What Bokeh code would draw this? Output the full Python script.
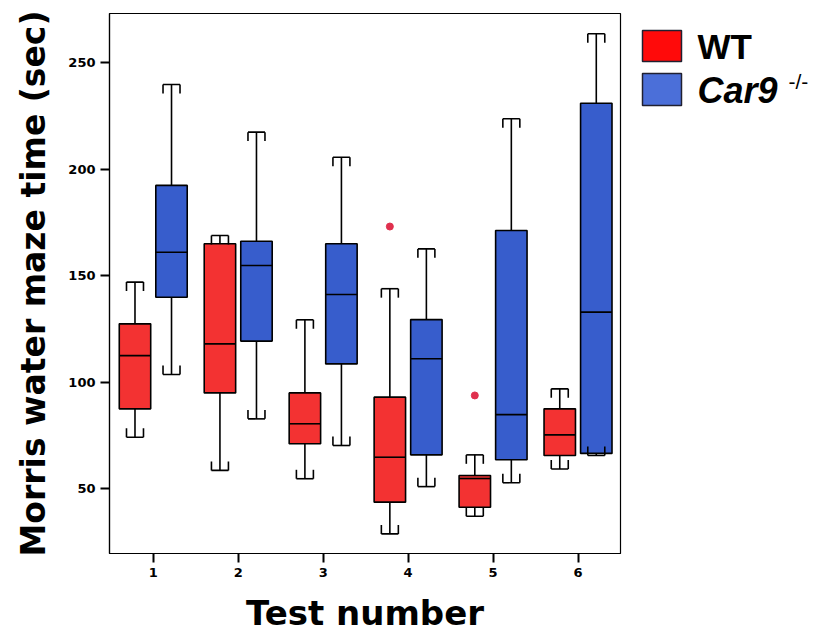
from bokeh.plotting import figure
from bokeh.models import FixedTicker, Range1d, ColumnDataSource
from bokeh.layouts import row
from bokeh.core.properties import value
from bokeh.embed import file_html
from bokeh.resources import INLINE

# ---------------- data ----------------
tests = [1, 2, 3, 4, 5, 6]
tick_labels = ["1", "2", "3", "4", "5", "6"]
y_ticks = [50, 100, 150, 200, 250]

wt_low = [74.1, 58.5, 54.6, 28.7, 37.0, 59.2]
wt_q1 = [87.4, 94.9, 71.0, 43.6, 41.2, 65.5]
wt_med = [112.4, 117.9, 80.4, 64.7, 54.7, 75.2]
wt_q3 = [127.3, 164.9, 94.9, 92.9, 56.1, 87.4]
wt_high = [146.9, 168.8, 129.2, 143.8, 65.8, 96.8]

car_low = [103.5, 82.7, 70.2, 50.9, 52.7, 65.5]
car_q1 = [139.8, 119.2, 108.5, 65.8, 63.5, 66.5]
car_med = [160.9, 154.7, 141.1, 110.9, 84.7, 132.8]
car_q3 = [192.3, 166.1, 164.9, 129.3, 171.1, 230.9]
car_high = [239.7, 217.3, 205.5, 162.5, 223.6, 263.5]

wt_out_test = [4, 5]
wt_out_val = [173.0, 93.7]

legend_labels = ["WT", "Car9"]
legend_sup = "-/-"

# ---------------- styling constants ----------------
WT_FILL = "#f33232"
CAR_FILL = "#375dcc"
WT_LEG = "#ff0a0a"
CAR_LEG = "#4b6fd9"
OFF = 0.215
BOX_W = 0.37
CAP_HALF = 0.10
CAP_LEG = 4.2
LW = 1.6

p = figure(width=623, height=640, output_backend="svg", toolbar_location=None,
           x_range=Range1d(0.485, 6.5), y_range=Range1d(19.5, 273),
           min_border_left=109, min_border_right=3, min_border_top=13, min_border_bottom=87)

p.outline_line_color = "black"
p.outline_line_width = 1.2
p.xgrid.visible = False
p.ygrid.visible = False
p.background_fill_color = "white"
p.border_fill_color = "white"


def draw_group(offset, low, q1, med, q3, high, fill):
    xs = [t + offset for t in tests]
    src = ColumnDataSource(dict(x=xs, low=low, q1=q1, med=med, q3=q3, high=high,
                                xl=[x - BOX_W / 2 for x in xs], xr=[x + BOX_W / 2 for x in xs],
                                cl=[x - CAP_HALF for x in xs], cr=[x + CAP_HALF for x in xs],
                                hl=[h - CAP_LEG for h in high], ll=[l + CAP_LEG for l in low]))
    p.segment(x0="x", y0="q3", x1="x", y1="high", source=src, line_color="black", line_width=LW)
    p.segment(x0="x", y0="q1", x1="x", y1="low", source=src, line_color="black", line_width=LW)
    p.vbar(x="x", width=BOX_W, bottom="q1", top="q3", source=src, fill_color=fill,
           line_color="black", line_width=LW)
    p.segment(x0="xl", y0="med", x1="xr", y1="med", source=src, line_color="black", line_width=LW)
    p.segment(x0="cl", y0="high", x1="cr", y1="high", source=src, line_color="black", line_width=LW)
    p.segment(x0="cl", y0="high", x1="cl", y1="hl", source=src, line_color="black", line_width=LW)
    p.segment(x0="cr", y0="high", x1="cr", y1="hl", source=src, line_color="black", line_width=LW)
    p.segment(x0="cl", y0="low", x1="cr", y1="low", source=src, line_color="black", line_width=LW)
    p.segment(x0="cl", y0="low", x1="cl", y1="ll", source=src, line_color="black", line_width=LW)
    p.segment(x0="cr", y0="low", x1="cr", y1="ll", source=src, line_color="black", line_width=LW)


draw_group(-OFF, wt_low, wt_q1, wt_med, wt_q3, wt_high, WT_FILL)
draw_group(OFF, car_low, car_q1, car_med, car_q3, car_high, CAR_FILL)

p.scatter(x=[t - OFF for t in wt_out_test], y=wt_out_val, size=7, color="#e0304e")

p.xaxis.ticker = FixedTicker(ticks=tests)
p.xaxis.major_label_overrides = {t: l for t, l in zip(tests, tick_labels)}
p.yaxis.ticker = FixedTicker(ticks=y_ticks)
for ax in (p.xaxis[0], p.yaxis[0]):
    ax.major_tick_in = 0
    ax.major_tick_out = 9
    ax.minor_tick_line_color = None
    ax.major_tick_line_width = 2
    ax.axis_line_color = "black"
    ax.axis_line_width = 1.2
    ax.major_label_text_font = "DejaVu Sans"
    ax.major_label_text_font_style = "bold"
    ax.major_label_text_font_size = "13px"
    ax.major_label_text_color = "black"
    ax.axis_label_text_font = "DejaVu Sans"
    ax.axis_label_text_font_style = "bold"
    ax.axis_label_text_color = "black"

p.xaxis.axis_label = "Test number"
p.xaxis.axis_label_text_font_size = "34px"
p.xaxis.axis_label_standoff = 13
p.xaxis.major_label_standoff = 5
p.yaxis.axis_label = "Morris water maze time (sec)"
p.yaxis.axis_label_text_font_size = "33px"
p.yaxis.axis_label_standoff = 12
p.yaxis.major_label_standoff = 5

# ---------------- legend panel (separate, axis-less figure in pixel space) ----------------
lg = figure(width=200, height=640, output_backend="svg", toolbar_location=None,
            x_range=Range1d(0, 200), y_range=Range1d(640, 0),
            min_border=0, outline_line_color=None)
lg.axis.visible = False
lg.grid.visible = False
lg.border_fill_color = "white"
lg.background_fill_color = "white"

lg.rect(x=[38.5, 38.5], y=[38.5, 90], width=39, height=[37, 38],
        fill_color=[WT_LEG, CAR_LEG], line_color="#202030", line_width=1.5)
lg.text(x=[74], y=[39], text=[legend_labels[0]], text_font=value("Liberation Sans"),
        text_font_style="bold", text_font_size="35px", text_baseline="middle", text_color="black")
lg.text(x=[74], y=[91], text=[legend_labels[1]], text_font=value("Liberation Sans"),
        text_font_style="bold italic", text_font_size="36px", text_baseline="middle", text_color="black")
lg.text(x=[165], y=[80], text=[legend_sup], text_font=value("Liberation Sans"),
        text_font_size="21px", text_baseline="middle", text_color="black")

layout = row(p, lg, spacing=0)
open("out.html", "w").write(file_html(layout, INLINE))
